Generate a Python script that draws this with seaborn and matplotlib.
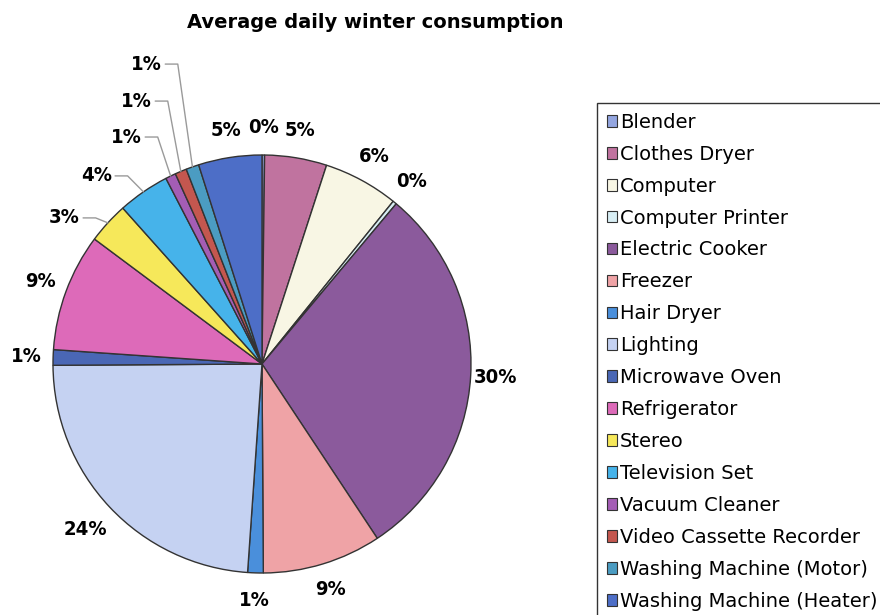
import matplotlib

matplotlib.use("Agg")
import matplotlib.pyplot as plt
import numpy as np
import seaborn as sns
from matplotlib.patches import Patch

# Appliance shares of average daily winter consumption (%)
appliances = [
    "Blender",
    "Clothes Dryer",
    "Computer",
    "Computer Printer",
    "Electric Cooker",
    "Freezer",
    "Hair Dryer",
    "Lighting",
    "Microwave Oven",
    "Refrigerator",
    "Stereo",
    "Television Set",
    "Vacuum Cleaner",
    "Video Cassette Recorder",
    "Washing Machine (Motor)",
    "Washing Machine (Heater)",
]
shares = [0.2, 4.8, 5.8, 0.3, 29.6, 9.2, 1.2, 23.8, 1.2, 9.1, 3.2, 4.0, 0.8, 0.9, 1.0, 4.9]
colors = [
    "#94A6E0", "#C0739F", "#F8F6E4", "#D8EEF4", "#8B5A9C", "#EFA3A6",
    "#4A8FDB", "#C5D2F2", "#4A67B5", "#DD6AB9", "#F6E85A", "#46B3EA",
    "#A45DB5", "#C4574F", "#4B9CC2", "#4D6EC7",
]

sns.set_theme(style="white")
plt.rcParams["text.color"] = "black"
palette = sns.color_palette(colors)

fig = plt.figure(figsize=(8.8, 6.15), dpi=100)
fig.patch.set_facecolor("white")

# axes sized so one data unit = pie radius, centre placed as in the reference
R_PX = 209.0
CX, CY = 262.0, 364.0
ax = fig.add_axes([0, 0, 560 / 880, 595 / 615])

wedges, _ = ax.pie(
    shares,
    colors=palette,
    startangle=90,
    counterclock=False,
    radius=1.0,
    wedgeprops=dict(edgecolor="#333333", linewidth=1.0),
)
ax.set_aspect("auto")
ax.set_xlim((0 - CX) / R_PX, (560 - CX) / R_PX)
ax.set_ylim((CY - 615) / R_PX, (CY - 20) / R_PX)
ax.axis("off")

label_font = dict(family="DejaVu Sans", stretch="condensed", fontweight="bold",
                  fontsize=14.5, color="black")

# small crowded slices get a text anchor and a leader line
leader_pos = {
    "Stereo": (-0.871, 0.699),
    "Television Set": (-0.718, 0.900),
    "Vacuum Cleaner": (-0.574, 1.086),
    "Video Cassette Recorder": (-0.526, 1.258),
    "Washing Machine (Motor)": (-0.478, 1.435),
}

for name, val, w in zip(appliances, shares, wedges):
    mid = np.deg2rad((w.theta1 + w.theta2) / 2)
    txt = f"{int(round(val))}%"
    if name in leader_pos:
        tx, ty = leader_pos[name]
        ex, ey = np.cos(mid), np.sin(mid)
        ax.plot([tx + 0.015, tx + 0.075, ex], [ty, ty, ey], color="#9a9a9a", lw=1.0)
        ax.text(tx, ty, txt, ha="right", va="center", **label_font)
    else:
        r = 1.13
        if name == "Electric Cooker":
            r = 1.12
        elif name == "Lighting":
            r = 1.16
        ax.text(r * np.cos(mid), r * np.sin(mid), txt, ha="center", va="center", **label_font)

fig.text(
    375 / 880, 1 - 22 / 615, "Average daily winter consumption",
    ha="center", va="center", fontsize=14, fontweight="bold", family="DejaVu Sans",
    color="black",
)

handles = [Patch(facecolor=c, edgecolor="#333333", linewidth=0.8) for c in palette]
leg = fig.legend(
    handles,
    appliances,
    loc="upper left",
    bbox_to_anchor=(597 / 880, 1 - 103 / 615),
    bbox_transform=fig.transFigure,
    frameon=True,
    fancybox=False,
    borderaxespad=0,
    borderpad=0.5,
    handlelength=0.55,
    handleheight=0.55,
    handletextpad=0.12,
    labelspacing=0.665,
    prop=dict(family="DejaVu Sans", size=14),
)
leg.get_frame().set_edgecolor("black")
leg.get_frame().set_linewidth(1.0)
for t in leg.get_texts():
    t.set_color("black")

fig.savefig("out.png", dpi=100, facecolor="white")
